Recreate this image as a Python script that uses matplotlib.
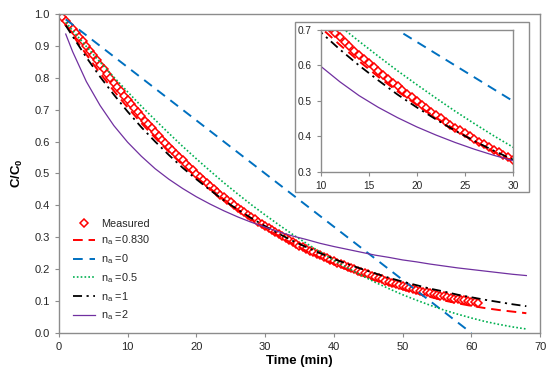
import numpy as np
import matplotlib
matplotlib.use("Agg")
from matplotlib import pyplot as plt
from matplotlib.patches import Rectangle

# measured C/C0, one reading every 0.5 min from 0 to 61 min
meas_t = [0.0, 0.5, 1.0, 1.5, 2.0, 2.5, 3.0, 3.5, 4.0, 4.5, 5.0, 5.5, 6.0, 6.5, 7.0, 7.5, 8.0, 8.5, 9.0, 9.5,
          10.0, 10.5, 11.0, 11.5, 12.0, 12.5, 13.0, 13.5, 14.0, 14.5, 15.0, 15.5, 16.0, 16.5, 17.0, 17.5, 18.0, 18.5, 19.0, 19.5,
          20.0, 20.5, 21.0, 21.5, 22.0, 22.5, 23.0, 23.5, 24.0, 24.5, 25.0, 25.5, 26.0, 26.5, 27.0, 27.5, 28.0, 28.5, 29.0, 29.5,
          30.0, 30.5, 31.0, 31.5, 32.0, 32.5, 33.0, 33.5, 34.0, 34.5, 35.0, 35.5, 36.0, 36.5, 37.0, 37.5, 38.0, 38.5, 39.0, 39.5,
          40.0, 40.5, 41.0, 41.5, 42.0, 42.5, 43.0, 43.5, 44.0, 44.5, 45.0, 45.5, 46.0, 46.5, 47.0, 47.5, 48.0, 48.5, 49.0, 49.5,
          50.0, 50.5, 51.0, 51.5, 52.0, 52.5, 53.0, 53.5, 54.0, 54.5, 55.0, 55.5, 56.0, 56.5, 57.0, 57.5, 58.0, 58.5, 59.0, 59.5,
          60.0, 60.5, 61.0]
meas_c = [1.000, 0.989, 0.978, 0.966, 0.954, 0.941, 0.928, 0.914, 0.900, 0.885, 0.870, 0.855, 0.841, 0.826, 0.812, 0.798, 0.785, 0.771, 0.758, 0.744,
          0.731, 0.718, 0.705, 0.692, 0.679, 0.666, 0.654, 0.642, 0.630, 0.618, 0.606, 0.595, 0.584, 0.573, 0.562, 0.551, 0.541, 0.531, 0.521, 0.510,
          0.499, 0.489, 0.479, 0.469, 0.460, 0.451, 0.442, 0.433, 0.425, 0.417, 0.409, 0.401, 0.393, 0.385, 0.378, 0.370, 0.363, 0.356, 0.349, 0.342,
          0.335, 0.328, 0.322, 0.315, 0.309, 0.303, 0.297, 0.291, 0.285, 0.279, 0.274, 0.268, 0.263, 0.258, 0.253, 0.248, 0.243, 0.238, 0.234, 0.229,
          0.225, 0.220, 0.216, 0.212, 0.208, 0.203, 0.199, 0.195, 0.191, 0.188, 0.184, 0.180, 0.176, 0.172, 0.168, 0.164, 0.161, 0.157, 0.154, 0.150,
          0.147, 0.144, 0.141, 0.138, 0.135, 0.132, 0.130, 0.127, 0.125, 0.122, 0.120, 0.117, 0.115, 0.113, 0.111, 0.108, 0.106, 0.104, 0.102, 0.100,
          0.098, 0.096, 0.094]

# model curves
model_t = [1, 2, 4, 6, 8, 10, 12, 14, 16, 18, 20, 22, 24, 26, 28, 30, 32, 34,
           36, 38, 40, 42, 44, 46, 48, 50, 52, 54, 56, 58, 60, 62, 64, 66, 68]
c_083 = [0.967, 0.934, 0.873, 0.814, 0.759, 0.707, 0.658, 0.612, 0.568, 0.527, 0.489, 0.453, 0.419, 0.387, 0.358, 0.330, 0.304, 0.280,
         0.257, 0.236, 0.216, 0.198, 0.181, 0.165, 0.151, 0.137, 0.125, 0.113, 0.102, 0.093, 0.085, 0.078, 0.072, 0.067, 0.062]
c_05 = [0.974, 0.948, 0.898, 0.849, 0.802, 0.756, 0.711, 0.668, 0.626, 0.585, 0.546, 0.508, 0.471, 0.436, 0.402, 0.370, 0.339, 0.309,
        0.281, 0.254, 0.228, 0.204, 0.181, 0.159, 0.139, 0.120, 0.103, 0.087, 0.072, 0.059, 0.047, 0.036, 0.027, 0.019, 0.0125]
c_1 = [0.964, 0.930, 0.864, 0.803, 0.747, 0.694, 0.645, 0.600, 0.558, 0.518, 0.482, 0.448, 0.416, 0.387, 0.360, 0.335, 0.311, 0.289,
       0.269, 0.250, 0.232, 0.216, 0.201, 0.187, 0.173, 0.161, 0.150, 0.139, 0.130, 0.120, 0.112, 0.104, 0.097, 0.090, 0.084]
c_2 = [0.937, 0.882, 0.788, 0.713, 0.650, 0.598, 0.554, 0.515, 0.482, 0.453, 0.427, 0.404, 0.383, 0.364, 0.347, 0.332, 0.317, 0.304,
       0.293, 0.281, 0.271, 0.262, 0.253, 0.244, 0.237, 0.229, 0.223, 0.216, 0.210, 0.204, 0.199, 0.194, 0.189, 0.184, 0.180]
zero_t = [1, 60]
c_0 = [0.983, 0.0]

labels = ['Measured', 'n$_\\mathregular{a}$ =0.830', 'n$_\\mathregular{a}$ =0',
          'n$_\\mathregular{a}$ =0.5', 'n$_\\mathregular{a}$ =1', 'n$_\\mathregular{a}$ =2']

plt.rcParams['font.family'] = ['Liberation Sans', 'DejaVu Sans']
plt.rcParams['mathtext.fontset'] = 'custom'
plt.rcParams['mathtext.rm'] = 'Liberation Sans'

GRAY = '#8c8c8c'
TXT = '#262626'


def draw_series(a, ms):
    a.plot(meas_t, meas_c, ls='none', marker='D', ms=ms, mfc='white', mec='#ff0000', mew=1.1, label=labels[0])
    a.plot(model_t, c_083, color='#ff0000', ls=(0, (5, 3)), lw=1.4, label=labels[1])
    a.plot(zero_t, c_0, color='#0070c0', ls=(0, (5, 3.5)), lw=1.4, label=labels[2])
    a.plot(model_t, c_05, color='#00b050', ls=(0, (1, 1.3)), lw=1.2, label=labels[3])
    a.plot(model_t, c_1, color='black', ls=(0, (5, 2.5, 1.2, 2.5)), lw=1.3, label=labels[4])
    a.plot(model_t, c_2, color='#7030a0', lw=0.9, label=labels[5])


def style_axes(a):
    for s in a.spines.values():
        s.set_color(GRAY)
        s.set_linewidth(1.0)
    a.tick_params(direction='out', length=3, width=0.8, color=GRAY, labelsize=8, labelcolor=TXT)


fig = plt.figure(figsize=(5.5, 3.76), dpi=100)

# main chart
ax = fig.add_axes([0.107, 0.1144, 0.875, 0.8485])
draw_series(ax, 3.8)
ax.set_xlim(0, 70)
ax.set_ylim(0, 1.0)
ax.set_xticks(range(0, 71, 10))
ax.set_yticks(np.arange(0, 1.01, 0.1))
ax.yaxis.set_major_formatter(matplotlib.ticker.FormatStrFormatter('%.1f'))
style_axes(ax)
ax.set_xlabel('Time (min)', fontsize=9.5, fontweight='bold', color='black', labelpad=2)
ax.set_ylabel('C/C$_\\mathregular{0}$', fontsize=9.5, fontweight='bold', color='black', labelpad=7)

leg = ax.legend(loc='upper left', bbox_to_anchor=(0.012, 0.385), frameon=False, fontsize=7.8,
                labelspacing=0.45, handlelength=2.0, handletextpad=0.6, borderpad=0.3)
for t in leg.get_texts():
    t.set_color(TXT)

# inset
frame = Rectangle((0.5364, 0.4894), 0.4255, 0.4529, transform=fig.transFigure,
                  facecolor='white', edgecolor=GRAY, linewidth=1.0, zorder=5)
fig.add_artist(frame)

ins = fig.add_axes([0.583, 0.5426, 0.3496, 0.3777])
ins.set_zorder(6)
draw_series(ins, 4.3)
ins.set_xlim(10, 30)
ins.set_ylim(0.3, 0.7)
ins.set_xticks([10, 15, 20, 25, 30])
ins.set_yticks([0.3, 0.4, 0.5, 0.6, 0.7])
ins.yaxis.set_major_formatter(matplotlib.ticker.FormatStrFormatter('%.1f'))
style_axes(ins)
ins.tick_params(labelsize=7.3)

fig.savefig('out.png', dpi=100)
